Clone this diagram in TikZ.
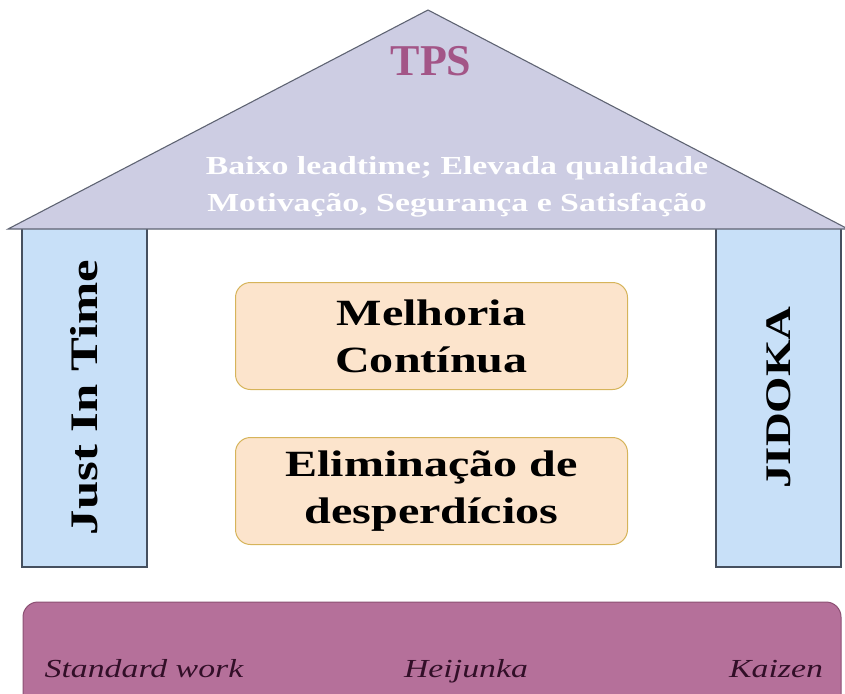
\documentclass[tikz,border=0pt]{standalone}
\usepackage{fontspec}
\setmainfont{Liberation Serif}
\newfontfamily\widefont[FakeStretch=1.3]{Liberation Serif}
\definecolor{roofc}{RGB}{205,205,227}
\definecolor{roofd}{RGB}{95,100,115}
\definecolor{tpsc}{RGB}{163,85,135}
\definecolor{pilc}{RGB}{200,224,248}
\definecolor{pild}{RGB}{70,80,95}
\definecolor{boxc}{RGB}{252,228,204}
\definecolor{boxd}{RGB}{214,180,90}
\definecolor{barc}{RGB}{181,112,154}
\definecolor{bard}{RGB}{140,80,115}
\definecolor{bartext}{RGB}{50,15,40}
\tikzset{
  roof/.style={fill=roofc, draw=roofd, line width=1.1pt, line join=miter},
  pillar/.style={rectangle, fill=pilc, draw=pild, line width=1.2pt, inner sep=0pt,
    font=\widefont\bfseries\fontsize{39}{45}\selectfont},
  goalbox/.style={rectangle, rounded corners=15pt, fill=boxc, draw=boxd, line width=1pt,
    minimum width=392pt, align=center, inner sep=0pt,
    font=\widefont\bfseries\fontsize{37}{47}\selectfont},
  basebar/.style={fill=barc, draw=bard, line width=1pt},
  bartxt/.style={text=bartext, font=\widefont\itshape\fontsize{26}{30}\selectfont, anchor=base},
  rooftxt/.style={text=white, align=center, font=\widefont\bfseries\fontsize{26}{37}\selectfont},
}
\begin{document}
\begin{tikzpicture}[x=1pt,y=-1pt]
\useasboundingbox (0,0) rectangle (845,693);
% base bar
\draw[basebar, rounded corners=15pt] (23,720) -- (23,602) -- (841,602) -- (841,720);
\node[bartxt] (sw) at (144,677) {Standard work};
\node[bartxt] (hj) at (466,677) {Heijunka};
\node[bartxt] (kz) at (776,677) {Kaizen};
% pillars
\node[pillar, rotate=90, minimum width=339pt, minimum height=125pt] (jit) at (84.5,397.5) {Just In Time};
\node[pillar, rotate=90, minimum width=339pt, minimum height=125pt,
  font=\widefont\bfseries\fontsize{36}{42}\selectfont] (jid) at (778.5,397.5) {JIDOKA};
% roof
\draw[roof] (8,229) -- (428,10) -- (848,229) -- cycle;
\node[text=tpsc, font=\bfseries\fontsize{44}{50}\selectfont, anchor=base] (tps) at (431,75) {TPS};
\node[rooftxt] (goals) at (457,187) {Baixo leadtime; Elevada qualidade\\Motivação, Segurança e Satisfação};
% center boxes
\node[goalbox, minimum height=107pt] (mc) at (431.5,336) {Melhoria\\Contínua};
\node[goalbox, minimum height=107pt] (ed) at (431.5,491) {Eliminação de\\desperdícios};
\end{tikzpicture}
\end{document}
